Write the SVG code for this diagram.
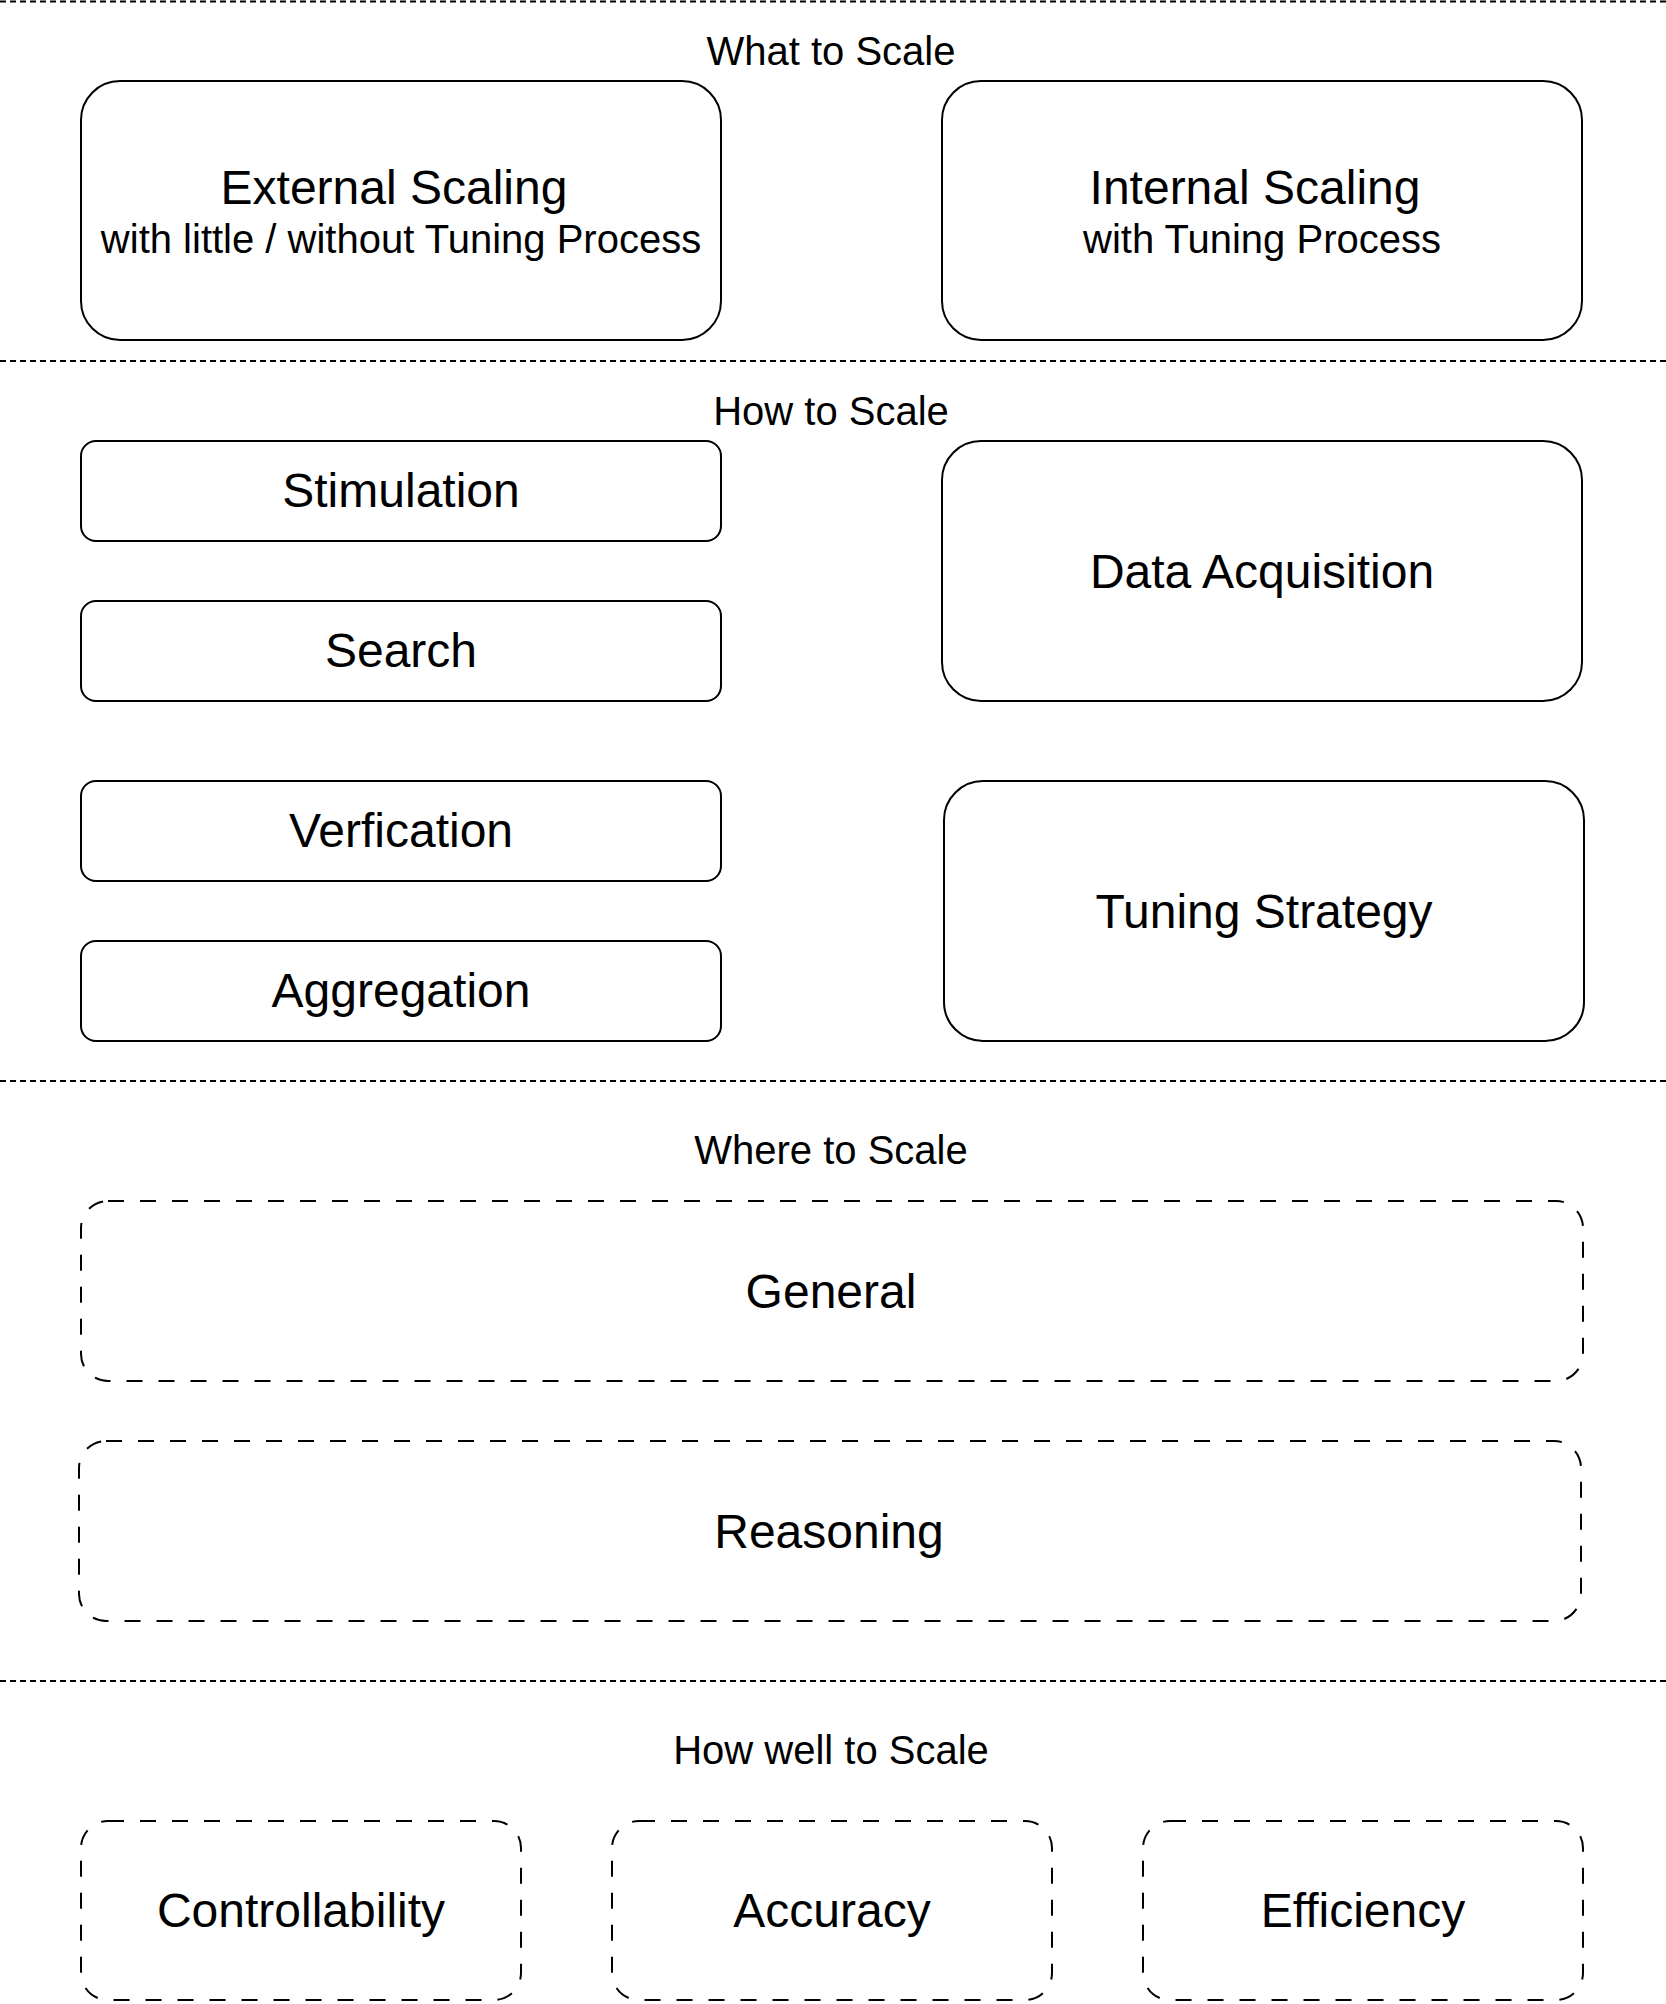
<svg xmlns="http://www.w3.org/2000/svg" width="1666" height="2004" viewBox="0 0 1666 2004">
<style>
  .box{fill:#ffffff;stroke:#000000;stroke-width:2}
  .dbox{fill:#ffffff;stroke:#000000;stroke-width:2;stroke-dasharray:16 16}
  .sep{stroke:#000000;stroke-width:2;stroke-dasharray:6 4;fill:none}
  text{font-family:"Liberation Sans",Arial,sans-serif;fill:#000000;text-anchor:middle}
  .lbl{font-size:48px}
  .sub{font-size:40px}
  .sec{font-size:40px}
</style>
<rect x="0" y="0" width="1666" height="2004" fill="#ffffff"/>
<g id="separators">
  <line class="sep" x1="0" y1="1.5" x2="1666" y2="1.5"/>
  <line class="sep" x1="0" y1="361" x2="1666" y2="361"/>
  <line class="sep" x1="0" y1="1081" x2="1666" y2="1081"/>
  <line class="sep" x1="0" y1="1681" x2="1666" y2="1681"/>
</g>
<g id="section-labels">
  <text class="sec" x="831" y="65">What to Scale</text>
  <text class="sec" x="831" y="425">How to Scale</text>
  <text class="sec" x="831" y="1164">Where to Scale</text>
  <text class="sec" x="831" y="1764">How well to Scale</text>
</g>
<g id="connectors"></g>
<g id="external-scaling">
  <rect class="box" x="81" y="81" width="640" height="259" rx="39" ry="39"/>
  <text class="lbl" x="394" y="204">External Scaling</text>
  <text class="sub" x="401" y="253">with little / without Tuning Process</text>
</g>
<g id="internal-scaling">
  <rect class="box" x="942" y="81" width="640" height="259" rx="39" ry="39"/>
  <text class="lbl" x="1255" y="204">Internal Scaling</text>
  <text class="sub" x="1262" y="253">with Tuning Process</text>
</g>
<g id="stimulation">
  <rect class="box" x="81" y="441" width="640" height="100" rx="15" ry="15"/>
  <text class="lbl" x="401" y="507">Stimulation</text>
</g>
<g id="search">
  <rect class="box" x="81" y="601" width="640" height="100" rx="15" ry="15"/>
  <text class="lbl" x="401" y="667">Search</text>
</g>
<g id="verfication">
  <rect class="box" x="81" y="781" width="640" height="100" rx="15" ry="15"/>
  <text class="lbl" x="401" y="847">Verfication</text>
</g>
<g id="aggregation">
  <rect class="box" x="81" y="941" width="640" height="100" rx="15" ry="15"/>
  <text class="lbl" x="401" y="1007">Aggregation</text>
</g>
<g id="data-acquisition">
  <rect class="box" x="942" y="441" width="640" height="260" rx="39" ry="39"/>
  <text class="lbl" x="1262" y="588">Data Acquisition</text>
</g>
<g id="tuning-strategy">
  <rect class="box" x="944" y="781" width="640" height="260" rx="39" ry="39"/>
  <text class="lbl" x="1264" y="928">Tuning Strategy</text>
</g>
<g id="general">
  <rect class="dbox" x="81" y="1201" width="1502" height="180" rx="27" ry="27"/>
  <text class="lbl" x="831" y="1308">General</text>
</g>
<g id="reasoning">
  <rect class="dbox" x="79" y="1441" width="1502" height="180" rx="27" ry="27"/>
  <text class="lbl" x="829" y="1548">Reasoning</text>
</g>
<g id="controllability">
  <rect class="dbox" x="81" y="1821" width="440" height="179" rx="27" ry="27"/>
  <text class="lbl" x="301" y="1927">Controllability</text>
</g>
<g id="accuracy">
  <rect class="dbox" x="612" y="1821" width="440" height="179" rx="27" ry="27"/>
  <text class="lbl" x="832" y="1927">Accuracy</text>
</g>
<g id="efficiency">
  <rect class="dbox" x="1143" y="1821" width="440" height="179" rx="27" ry="27"/>
  <text class="lbl" x="1363" y="1927">Efficiency</text>
</g>
</svg>
